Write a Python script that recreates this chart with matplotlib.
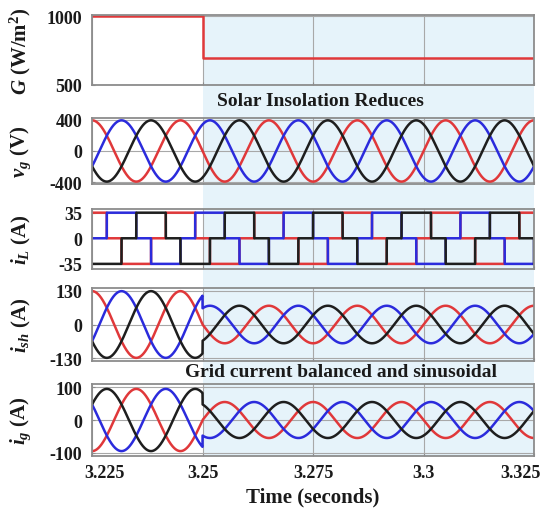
import numpy as np
import matplotlib
matplotlib.use("Agg")
import matplotlib.pyplot as plt
from matplotlib import transforms
from matplotlib.patches import Rectangle

# ---- data -------------------------------------------------------------
t_start, t_step, t_end = 3.225, 3.25, 3.325
f_grid = 50.0                                  # Hz

# solar insolation (W/m^2): before / after the step
G_times = [3.225, 3.25, 3.325]
G_values = [1000, 700, 700]

# waveform amplitudes: (before step, after step)
vg_amp = (390, 390)        # grid voltage, V
iL_dc = (35, 35)           # load current level, A
ish_amp = (128, 72)        # VSC (shunt) current, A
ig_amp = (95, 55)          # grid current, A

phase_colors = ["#e0383a", "#2b2bdc", "#1e1e1e"]

xticks = [3.225, 3.25, 3.275, 3.3, 3.325]
xtick_labels = ["3.225", "3.25", "3.275", "3.3", "3.325"]
G_ticks = [500, 1000]
vg_ticks = [-400, 0, 400]
iL_ticks = [-35, 0, 35]
ish_ticks = [-130, 0, 130]
ig_ticks = [-100, 0, 100]

# ---- style ------------------------------------------------------------
plt.rcParams["font.family"] = ["Liberation Serif", "DejaVu Serif"]
plt.rcParams["font.weight"] = "bold"
plt.rcParams["mathtext.fontset"] = "custom"
plt.rcParams["mathtext.rm"] = "Liberation Serif:bold"
plt.rcParams["mathtext.it"] = "Liberation Serif:italic:bold"
plt.rcParams["mathtext.bf"] = "Liberation Serif:bold"
plt.rcParams["axes.unicode_minus"] = False

band_color = "#e6f3fa"
spine_color = "#8c8c8c"
grid_color = "#a8a8a8"
text_color = "#1a1a1a"

tick_size = 13
label_size = 15

# ---- signals ----------------------------------------------------------
t = np.linspace(t_start, t_end, 6001)
theta = 2 * np.pi * f_grid * (t - t_start)
shifts = [0.0, 2 * np.pi / 3, 4 * np.pi / 3]
after = t >= t_step


def stepped(amp):
    return np.where(after, amp[1], amp[0])


unit = [np.cos(theta - s) for s in shifts]
vg = [stepped(vg_amp) * u for u in unit]
ish = [stepped(ish_amp) * u for u in unit]
ig = [-stepped(ig_amp) * u for u in unit]

# rectifier load: phase with highest voltage carries +Id, lowest carries -Id
stack = np.vstack(unit)
hi = np.argmax(stack, axis=0)
lo = np.argmin(stack, axis=0)
iL = [stepped(iL_dc) * ((hi == k).astype(float) - (lo == k).astype(float))
      for k in range(3)]

# ---- figure -----------------------------------------------------------
fig = plt.figure(figsize=(5.48, 5.10), dpi=100)
left, width = 0.168, 0.8066
boxes = [
    (0.8314, 0.1373),
    (0.6373, 0.1294),
    (0.4706, 0.1176),
    (0.2902, 0.1431),
    (0.1039, 0.1412),
]
axes = [fig.add_axes([left, b, width, h]) for b, h in boxes]

# shaded region after the insolation step, spanning all panels
trans = transforms.blended_transform_factory(axes[-1].transData, fig.transFigure)
y0 = boxes[-1][0]
y1 = boxes[0][0] + boxes[0][1]
fig.patches.append(Rectangle((t_step, y0), t_end - t_step, y1 - y0,
                             transform=trans, facecolor=band_color,
                             edgecolor="none", zorder=-1))

for ax in axes:
    ax.set_facecolor("none")
    ax.set_xlim(t_start, t_end)
    ax.set_xticks(xticks)
    ax.grid(True, color=grid_color, linewidth=0.8)
    ax.set_axisbelow(True)
    for sp in ax.spines.values():
        sp.set_color(spine_color)
        sp.set_linewidth(1.3)
    ax.tick_params(direction="in", length=2, colors=spine_color,
                   labelcolor=text_color, labelsize=tick_size)
    ax.tick_params(axis="y", pad=7)
    ax.yaxis.set_label_coords(-0.133, 0.5)

for ax in axes[:-1]:
    ax.tick_params(labelbottom=False)

lw = 1.8

# G
ax = axes[0]
ax.step(G_times, G_values, where="post", color=phase_colors[0], lw=lw)
ax.set_ylim(500, 1010)
ax.set_yticks(G_ticks)
ax.set_ylabel(r"$G$ (W/m$^{2}$)", fontsize=label_size, fontweight="bold",
              color=text_color)

# grid voltage
ax = axes[1]
for y, c in zip(vg, phase_colors):
    ax.plot(t, y, color=c, lw=lw)
ax.set_ylim(-420, 420)
ax.set_yticks(vg_ticks)
ax.set_ylabel(r"$v_g$ (V)", fontsize=label_size, fontweight="bold",
              color=text_color)

# load current
ax = axes[2]
for y, c in zip(iL, phase_colors):
    ax.plot(t, y, color=c, lw=lw)
ax.set_ylim(-42, 40)
ax.set_yticks(iL_ticks)
ax.set_ylabel(r"$i_L$ (A)", fontsize=label_size, fontweight="bold",
              color=text_color)

# shunt (VSC) current
ax = axes[3]
for y, c in zip(ish, phase_colors):
    ax.plot(t, y, color=c, lw=lw)
ax.set_ylim(-140, 140)
ax.set_yticks(ish_ticks)
ax.set_ylabel(r"$i_{sh}$ (A)", fontsize=label_size, fontweight="bold",
              color=text_color)

# grid current
ax = axes[4]
for y, c in zip(ig, phase_colors):
    ax.plot(t, y, color=c, lw=lw)
ax.set_ylim(-110, 110)
ax.set_yticks(ig_ticks)
ax.set_xticklabels(xtick_labels)
ax.tick_params(axis="x", pad=6)
ax.set_ylabel(r"$i_g$ (A)", fontsize=label_size, fontweight="bold",
              color=text_color)
ax.set_xlabel("Time (seconds)", fontsize=label_size, fontweight="bold",
              color=text_color, labelpad=4)

# keep the outer time labels inside the frame
xlabels = ax.get_xticklabels()
xlabels[0].set_transform(xlabels[0].get_transform() +
                         transforms.ScaledTranslation(12 / 100, 0, fig.dpi_scale_trans))
xlabels[-1].set_transform(xlabels[-1].get_transform() +
                          transforms.ScaledTranslation(-14 / 100, 0, fig.dpi_scale_trans))

fig.text(0.584, 0.800, "Solar Insolation Reduces", ha="center", va="center",
         fontsize=14, fontweight="bold", color=text_color)
fig.text(0.622, 0.269, "Grid current balanced and sinusoidal", ha="center",
         va="center", fontsize=14, fontweight="bold", color=text_color)

fig.savefig("out.png", dpi=100)
